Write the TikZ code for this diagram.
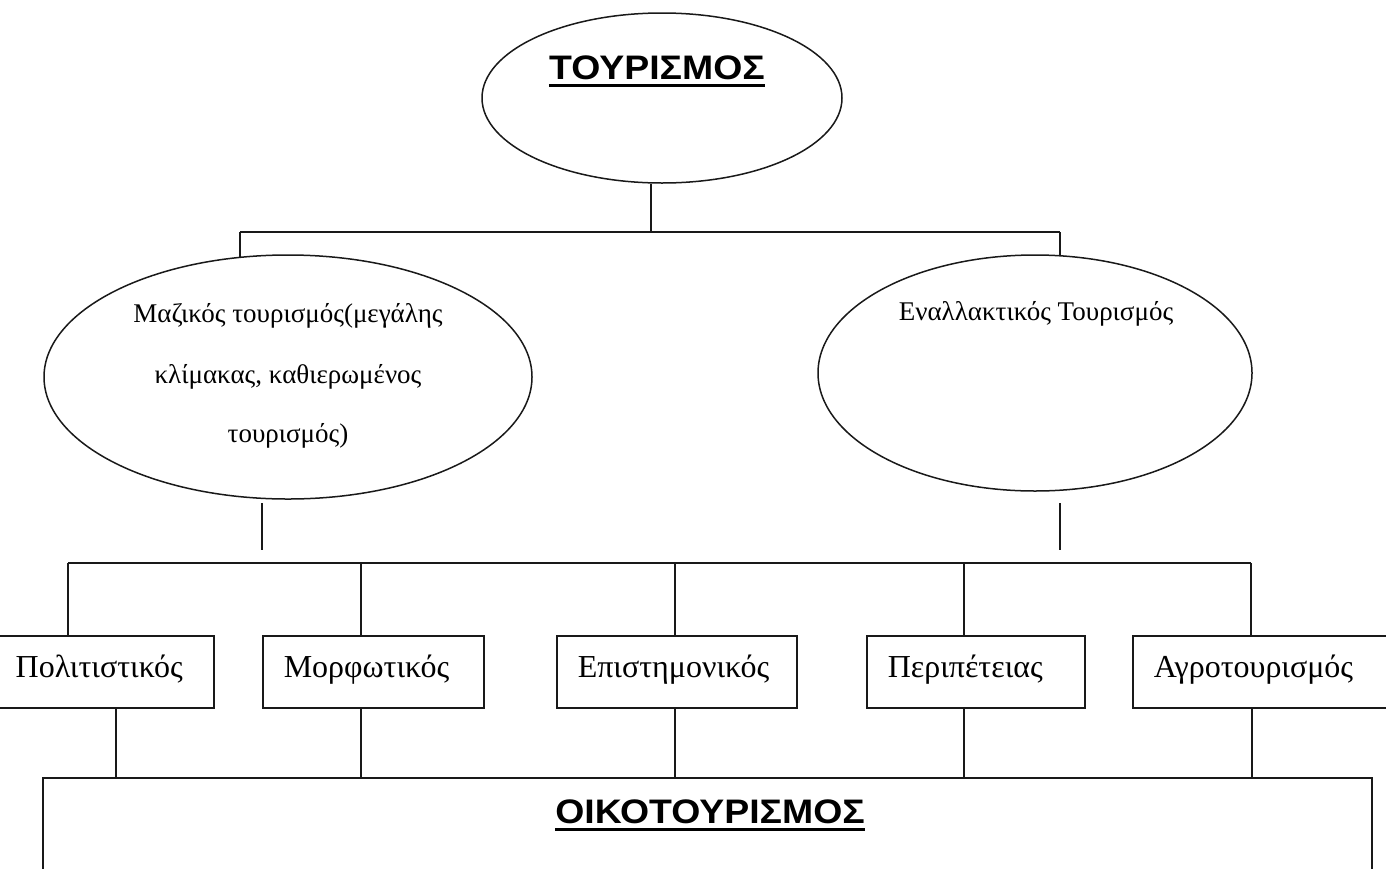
\documentclass[tikz,border=0pt]{standalone}
\usepackage{fontspec}
\setmainfont{Liberation Serif}
\newfontfamily\headfont{Liberation Sans}[FakeStretch=1.1]
\usetikzlibrary{shapes.geometric}
\tikzset{
  ln/.style={line width=1.5pt, draw=black!90},
  oval/.style={ellipse, ln, inner sep=0pt},
  catbox/.style={rectangle, ln, minimum height=72pt, inner xsep=21pt, inner ysep=0pt, text height=22pt, text depth=10pt, align=left, font=\fontsize{32}{38}\selectfont, anchor=north west},
  ovtext/.style={inner sep=0pt, align=center, font=\fontsize{27}{59}\selectfont},
  headtxt/.style={inner sep=0pt, anchor=base, font=\headfont\bfseries\fontsize{34}{40}\selectfont},
  uline/.style={line width=3pt, black}
}
\begin{document}
\begin{tikzpicture}[x=1pt,y=-1pt]
\useasboundingbox (0,0) rectangle (1386,868);
\fill[white] (0,0) rectangle (1386,868);
\clip (0,0) rectangle (1386,868);

% top
\node[oval, minimum width=360pt, minimum height=170pt] (top) at (662,98) {};
\node[headtxt] (toptxt) at (657,79) {ΤΟΥΡΙΣΜΟΣ};
\draw[uline] ([yshift=-6pt]toptxt.base west) -- ([yshift=-6pt]toptxt.base east);

% first bar
\coordinate (s0) at (651,232);
\coordinate (bl) at (240,232);
\coordinate (br) at (1060,232);
\draw[ln] (s0) -- (s0 |- top.south);
\draw[ln] (bl) -- (br);

% second level ellipses
\node[oval, minimum width=488pt, minimum height=244pt] (mass) at (288,377) {};
\node[oval, minimum width=434pt, minimum height=236pt] (alt) at (1035,373) {};
\draw[ln] (bl) -- ([yshift=-2.5pt]bl |- mass.north);
\draw[ln] (br) -- ([yshift=-1pt]br |- alt.north);

\node[ovtext, anchor=base] (masst1) at (288,322) {Μαζικός τουρισμός(μεγάλης};
\node[ovtext, anchor=base] (masst2) at (288,383) {κλίμακας, καθιερωμένος};
\node[ovtext, anchor=base] (masst3) at (288,442) {τουρισμός)};
\node[ovtext, anchor=base] (altt) at (1036,320) {Εναλλακτικός Τουρισμός};

% loose stems under ellipses
\coordinate (m1) at (262,503);
\coordinate (m2) at (262,550);
\coordinate (a1) at (1060,503);
\coordinate (a2) at (1060,550);
\draw[ln] (m1) -- (m2);
\draw[ln] (a1) -- (a2);

% second bar
\coordinate (c1) at (68,563);
\coordinate (c2) at (361,563);
\coordinate (c3) at (675,563);
\coordinate (c4) at (964,563);
\coordinate (c5) at (1251,563);
\draw[ln] (c1) -- (c5);

% category boxes
\node[catbox, text width=177pt] (k1) at (-6,635) {Πολιτιστικός};
\node[catbox, text width=179pt] (k2) at (262,635) {Μορφωτικός};
\node[catbox, text width=198pt] (k3) at (556,635) {Επιστημονικός};
\node[catbox, text width=176pt] (k4) at (866,635) {Περιπέτειας};
\node[catbox, text width=228pt] (k5) at (1132,635) {Αγροτουρισμός};

\draw[ln] (c1) -- (c1 |- k1.north);
\draw[ln] (c2) -- (c2 |- k2.north);
\draw[ln] (c3) -- (c3 |- k3.north);
\draw[ln] (c4) -- (c4 |- k4.north);
\draw[ln] (c5) -- (c5 |- k5.north);

% bottom box
\node[rectangle, ln, anchor=north west, minimum width=1329pt, minimum height=200pt, inner sep=0pt] (eco) at (42,777) {};
\node[headtxt] (ecotxt) at (710,823) {ΟΙΚΟΤΟΥΡΙΣΜΟΣ};
\draw[uline] ([yshift=-6pt]ecotxt.base west) -- ([yshift=-6pt]ecotxt.base east);

\coordinate (d1) at (116,707);
\coordinate (d5) at (1252,707);
\draw[ln] (d1) -- (d1 |- eco.north);
\draw[ln] (k2.south -| c2) -- (c2 |- eco.north);
\draw[ln] (k3.south -| c3) -- (c3 |- eco.north);
\draw[ln] (k4.south -| c4) -- (c4 |- eco.north);
\draw[ln] (d5) -- (d5 |- eco.north);
\end{tikzpicture}
\end{document}
